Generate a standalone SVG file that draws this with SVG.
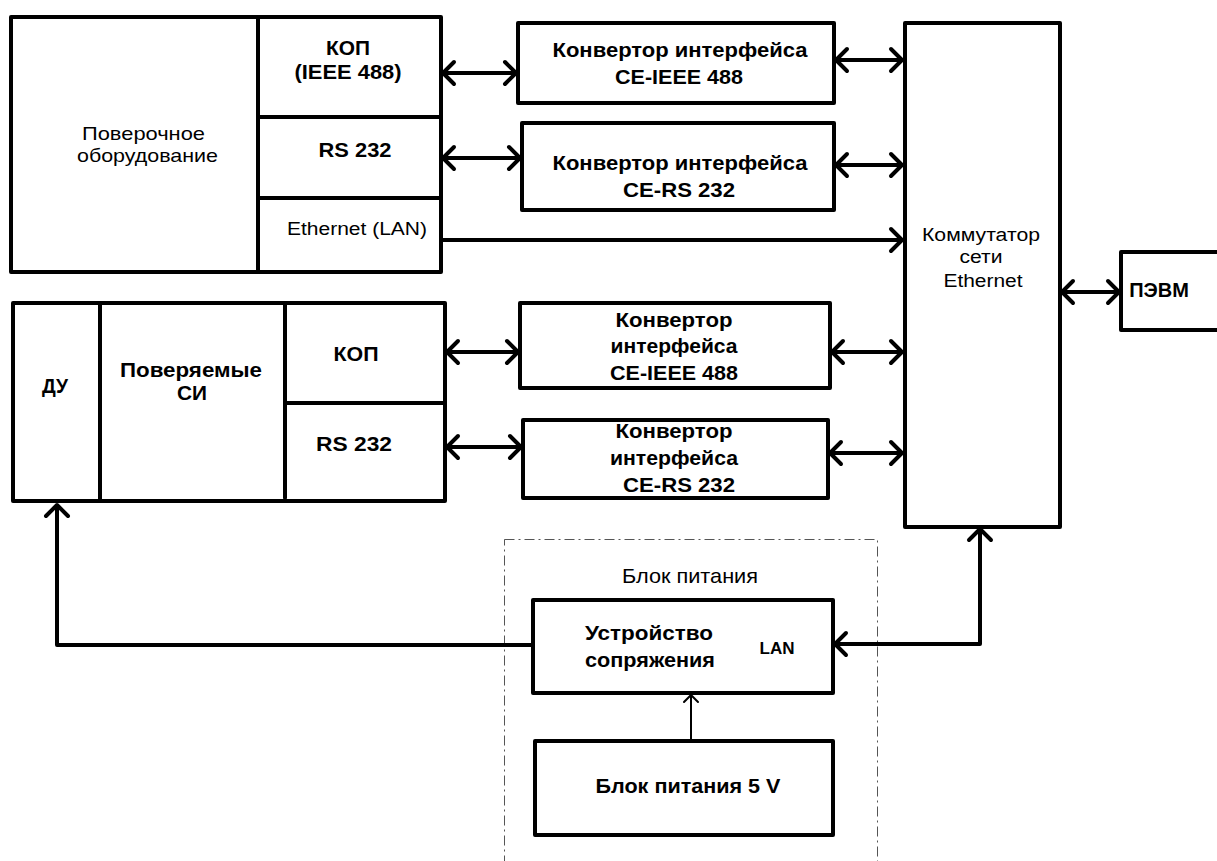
<svg xmlns="http://www.w3.org/2000/svg" width="1217" height="861" viewBox="0 0 1217 861">
<defs>
<style>
.box{fill:#fff;stroke:#000;stroke-width:4;stroke-linejoin:round}
.div{stroke:#000;stroke-width:4;fill:none;stroke-linecap:round}
.con{stroke:#000;stroke-width:4;fill:none;stroke-linejoin:round}
.thin{stroke:#000;stroke-width:2;fill:none}
.dash{fill:none;stroke:#555;stroke-width:1;stroke-dasharray:10 4 2 4}
text{font-family:"Liberation Sans",Arial,sans-serif;fill:#000;text-anchor:middle}
.b{font-weight:bold;font-size:20px}
.n{font-size:19px}
.s18{font-size:18px}
.s21{font-size:21px}
.s14{font-size:16px}
</style>
<marker id="ah" markerUnits="userSpaceOnUse" viewBox="-14 -14 16 28" refX="0" refY="0" markerWidth="16" markerHeight="28" orient="auto-start-reverse" overflow="visible">
<path d="M-11,-11 L0,0 L-11,11" fill="none" stroke="#000" stroke-width="4" stroke-linejoin="round" stroke-linecap="round"/>
</marker>
<marker id="ahs" markerUnits="userSpaceOnUse" viewBox="-9 -9 11 18" refX="0" refY="0" markerWidth="11" markerHeight="18" orient="auto" overflow="visible">
<path d="M-7,-7 L0,0 L-7,7" fill="none" stroke="#000" stroke-width="2" stroke-linecap="round"/>
</marker>
</defs>
<rect width="1217" height="861" fill="#fff"/>

<g id="power-group">
<rect class="dash" x="504.5" y="539.5" width="373" height="340"/>
<text class="s21" x="690" y="583" textLength="136" lengthAdjust="spacingAndGlyphs">Блок питания</text>
</g>

<g id="verification-equipment">
<rect class="box" x="11" y="17" width="430" height="255"/>
<line class="div" x1="258" y1="17" x2="258" y2="272"/>
<line class="div" x1="260" y1="117" x2="439" y2="117"/>
<line class="div" x1="260" y1="198" x2="439" y2="198"/>
<text class="n" x="143.5" y="140" textLength="123" lengthAdjust="spacingAndGlyphs">Поверочное</text>
<text class="n" x="147.5" y="162" textLength="141" lengthAdjust="spacingAndGlyphs">оборудование</text>
<text class="b" x="348" y="55" textLength="44" lengthAdjust="spacingAndGlyphs">КОП</text>
<text class="b" x="348" y="79" textLength="107" lengthAdjust="spacingAndGlyphs">(IEEE 488)</text>
<text class="b" x="355" y="157" textLength="73" lengthAdjust="spacingAndGlyphs">RS 232</text>
<text class="s18" x="357" y="235" textLength="140" lengthAdjust="spacingAndGlyphs">Ethernet (LAN)</text>
</g>

<g id="conv1">
<rect class="box" x="518" y="23" width="316" height="80"/>
<text class="b" x="680" y="57" textLength="255" lengthAdjust="spacingAndGlyphs">Конвертор интерфейса</text>
<text class="b" x="679" y="84" textLength="128" lengthAdjust="spacingAndGlyphs">CE-IEEE 488</text>
</g>

<g id="conv2">
<rect class="box" x="522" y="123" width="312" height="87"/>
<text class="b" x="680" y="170" textLength="255" lengthAdjust="spacingAndGlyphs">Конвертор интерфейса</text>
<text class="b" x="679" y="197" textLength="112" lengthAdjust="spacingAndGlyphs">CE-RS 232</text>
</g>

<g id="switch">
<rect class="box" x="905" y="23" width="155" height="504"/>
<text class="s18" x="981" y="241" textLength="118" lengthAdjust="spacingAndGlyphs">Коммутатор</text>
<text class="s18" x="981" y="263" textLength="43" lengthAdjust="spacingAndGlyphs">сети</text>
<text class="s18" x="983" y="287" textLength="79" lengthAdjust="spacingAndGlyphs">Ethernet</text>
</g>

<g id="pc">
<rect class="box" x="1121" y="252" width="110" height="78"/>
<text class="b" x="1159" y="297">ПЭВМ</text>
</g>

<g id="devices-under-test">
<rect class="box" x="13" y="303" width="432" height="198"/>
<line class="div" x1="100" y1="303" x2="100" y2="501"/>
<line class="div" x1="285" y1="303" x2="285" y2="498"/>
<line class="div" x1="287" y1="403" x2="443" y2="403"/>
<text class="b" x="55" y="393" textLength="26" lengthAdjust="spacingAndGlyphs">ДУ</text>
<text class="b" x="191" y="377" textLength="142" lengthAdjust="spacingAndGlyphs">Поверяемые</text>
<text class="b" x="192" y="400" textLength="30" lengthAdjust="spacingAndGlyphs">СИ</text>
<text class="b" x="356" y="361" textLength="45" lengthAdjust="spacingAndGlyphs">КОП</text>
<text class="b" x="354" y="451" textLength="76" lengthAdjust="spacingAndGlyphs">RS 232</text>
</g>

<g id="conv3">
<rect class="box" x="520" y="303" width="310" height="85"/>
<text class="b" x="674" y="327" textLength="117" lengthAdjust="spacingAndGlyphs">Конвертор</text>
<text class="b" x="674" y="353" textLength="127" lengthAdjust="spacingAndGlyphs">интерфейса</text>
<text class="b" x="674" y="380" textLength="128" lengthAdjust="spacingAndGlyphs">CE-IEEE 488</text>
</g>

<g id="conv4">
<rect class="box" x="523" y="420" width="305" height="78"/>
<text class="b" x="674" y="438" textLength="117" lengthAdjust="spacingAndGlyphs">Конвертор</text>
<text class="b" x="674" y="465" textLength="128" lengthAdjust="spacingAndGlyphs">интерфейса</text>
<text class="b" x="679" y="492" textLength="112" lengthAdjust="spacingAndGlyphs">CE-RS 232</text>
</g>

<g id="interface-device">
<rect class="box" x="533" y="600" width="300" height="93"/>
<text class="b s21" x="649" y="640" textLength="128" lengthAdjust="spacingAndGlyphs">Устройство</text>
<text class="b s21" x="650" y="667" textLength="130" lengthAdjust="spacingAndGlyphs">сопряжения</text>
<text class="b s14" x="777" y="654" textLength="35" lengthAdjust="spacingAndGlyphs">LAN</text>
</g>

<g id="psu-5v">
<rect class="box" x="535" y="741" width="298" height="94"/>
<text class="b s21" x="688" y="793" textLength="185" lengthAdjust="spacingAndGlyphs">Блок питания 5 V</text>
</g>

<g id="connectors">
<line class="con" x1="443" y1="73" x2="516" y2="73" marker-start="url(#ah)" marker-end="url(#ah)"/>
<line class="con" x1="836" y1="60" x2="902" y2="60" marker-start="url(#ah)" marker-end="url(#ah)"/>
<line class="con" x1="443" y1="158" x2="520" y2="158" marker-start="url(#ah)" marker-end="url(#ah)"/>
<line class="con" x1="836" y1="165" x2="902" y2="165" marker-start="url(#ah)" marker-end="url(#ah)"/>
<line class="con" x1="441" y1="240" x2="902" y2="240" marker-end="url(#ah)"/>
<line class="con" x1="447" y1="352" x2="518" y2="352" marker-start="url(#ah)" marker-end="url(#ah)"/>
<line class="con" x1="832" y1="352" x2="902" y2="352" marker-start="url(#ah)" marker-end="url(#ah)"/>
<line class="con" x1="447" y1="447" x2="521" y2="447" marker-start="url(#ah)" marker-end="url(#ah)"/>
<line class="con" x1="830" y1="453" x2="902" y2="453" marker-start="url(#ah)" marker-end="url(#ah)"/>
<line class="con" x1="1062" y1="292" x2="1119" y2="292" marker-start="url(#ah)" marker-end="url(#ah)"/>
<path class="con" d="M980,529 V644 H835" marker-start="url(#ah)" marker-end="url(#ah)"/>
<path class="con" d="M531,645 H57 V505" marker-end="url(#ah)"/>
<line class="thin" x1="691" y1="739" x2="691" y2="695" marker-end="url(#ahs)"/>
</g>
</svg>
